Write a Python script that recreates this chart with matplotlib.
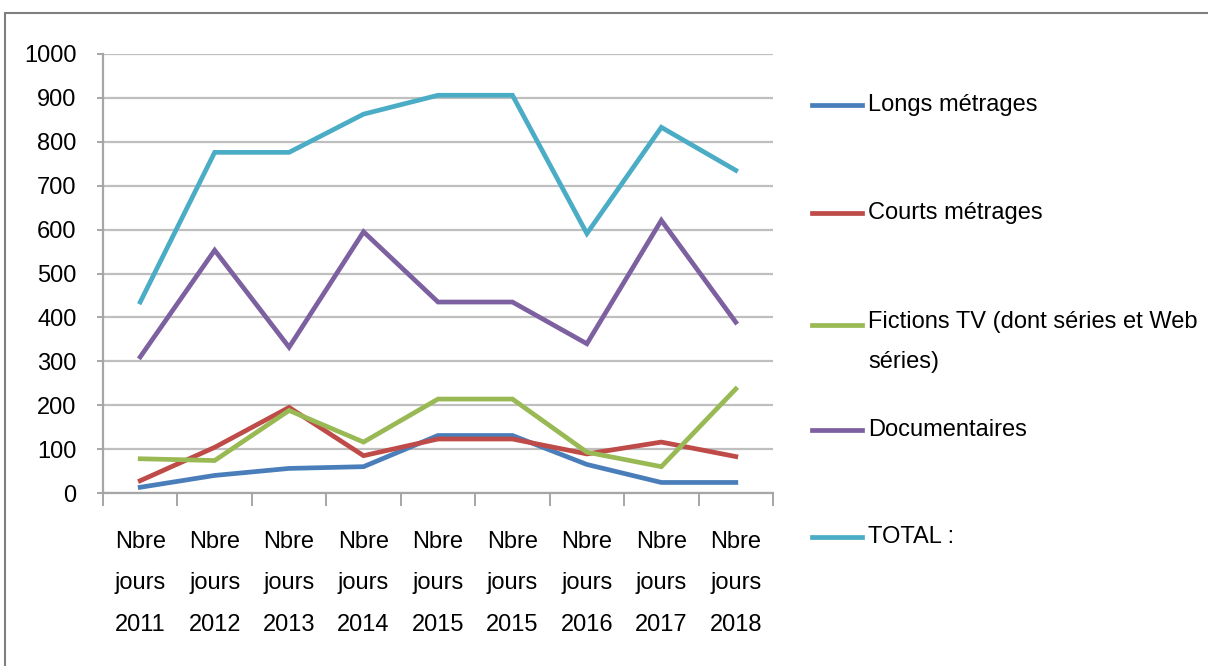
import matplotlib
matplotlib.use("Agg")
import matplotlib.pyplot as plt
from matplotlib.lines import Line2D
from matplotlib.patches import Rectangle
from matplotlib.ticker import MultipleLocator, FixedLocator

plt.rcParams["font.family"] = ["Liberation Sans", "DejaVu Sans"]

# --- data ---
years = ["2011", "2012", "2013", "2014", "2015", "2015", "2016", "2017", "2018"]
longs = [13, 40, 56, 60, 131, 131, 65, 24, 24]
courts = [28, 104, 195, 85, 123, 123, 89, 116, 83]
fictions = [78, 74, 188, 116, 214, 214, 93, 60, 237]
docs = [310, 553, 332, 595, 435, 435, 340, 621, 389]
total = [435, 776, 776, 863, 906, 906, 591, 833, 735]

names = ["Longs métrages", "Courts métrages",
         "Fictions TV (dont séries et Web\nséries)", "Documentaires", "TOTAL :"]
series = [longs, courts, fictions, docs, total]
colors = ["#4a7ebb", "#be4b48", "#98b954", "#7d60a0", "#4bacc6"]

W, H = 1208, 666
fig = plt.figure(figsize=(W / 100, H / 100), dpi=100)

# chart border (cut on the right and bottom in the original)
fig.add_artist(Rectangle((5 / W, -0.05), 1.1, (H - 13) / H + 0.05,
                         transform=fig.transFigure, fill=False,
                         edgecolor="#7f7f7f", lw=1.5))

ax = fig.add_axes([103 / W, (H - 493) / H, (773 - 103) / W, (493 - 54) / H])
x = list(range(len(years)))
for vals, c in zip(series, colors):
    ax.plot(x, vals, color=c, lw=3.4, solid_joinstyle="miter", zorder=3)

ax.set_xlim(-0.5, len(years) - 0.5)
ax.set_ylim(0, 1000)
ax.yaxis.set_major_locator(MultipleLocator(100))
ax.grid(axis="y", color="#bfbfbf", lw=1.6)
ax.set_axisbelow(True)
for s in ("top", "right"):
    ax.spines[s].set_visible(False)
for s in ("left", "bottom"):
    ax.spines[s].set_color("#a6a6a6")
    ax.spines[s].set_linewidth(1.6)

ax.set_xticks(x)
ax.set_xticklabels([f"Nbre\njours\n{y}" for y in years], fontsize=17,
                   linespacing=2.15)
ax.xaxis.set_minor_locator(FixedLocator([i - 0.5 for i in range(len(years) + 1)]))
ax.tick_params(axis="x", which="major", length=0, pad=27)
ax.tick_params(axis="x", which="minor", length=9, width=1.4, color="#a6a6a6")
ax.tick_params(axis="y", length=4, width=1.4, color="#a6a6a6", pad=15, labelsize=17)

# legend drawn at the positions used by the original layout
leg_y = [105, 213, 325, 430, 537]
for name, c, ly in zip(names, colors, leg_y):
    yf = (H - ly) / H
    fig.add_artist(Line2D([812 / W, 862 / W], [yf, yf], color=c, lw=3.4,
                          transform=fig.transFigure))
    if "\n" in name:
        fig.text(868 / W, yf + 14 / H, name, fontsize=17, va="top", linespacing=2.05)
    else:
        fig.text(868 / W, yf, name, fontsize=17, va="center")

fig.savefig("out.png", dpi=100)
